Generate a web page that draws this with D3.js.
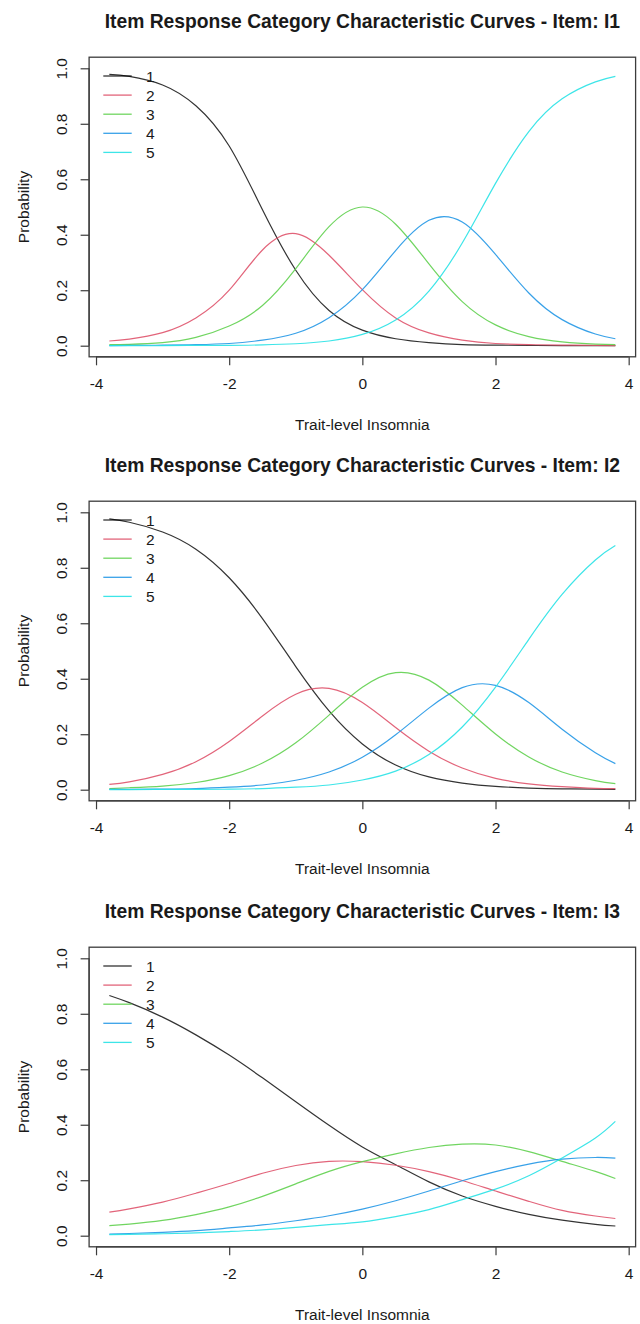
<!DOCTYPE html>
<html>
<head>
<meta charset="utf-8">
<script src="https://cdn.jsdelivr.net/npm/d3@7"></script>
<style>
  body { margin: 0; background: #fff; }
  svg { display: block; font-family: "Liberation Sans", Arial, sans-serif; }
</style>
</head>
<body>
<svg id="chart"></svg>
<script>
var width = 640, height = 1324;

// theta values the curves were read at
var theta = [-3.8, -3.5, -3, -2.5, -2, -1.5, -1, -0.5, 0, 0.5, 1, 1.5, 2, 2.5, 3, 3.5, 3.8];

var items = ["I1", "I2", "I3"];
var categories = ["1", "2", "3", "4", "5"];
var catColors = ["#000000", "#DF536B", "#61D04F", "#2297E6", "#28E2E5"];

var xTicks = [-4, -2, 0, 2, 4];
var yTicks = [0, 0.2, 0.4, 0.6, 0.8, 1.0];

// probabilities per category (rows = categories 1..5)
var probI1 = [
  [0.978, 0.971, 0.940, 0.865, 0.720, 0.490, 0.272, 0.127, 0.056, 0.025, 0.011, 0.004, 0.002, 0.001, 0.000, 0.000, 0.000],
  [0.017, 0.024, 0.047, 0.100, 0.200, 0.345, 0.404, 0.326, 0.202, 0.100, 0.046, 0.020, 0.008, 0.004, 0.002, 0.001, 0.000],
  [0.004, 0.005, 0.011, 0.030, 0.071, 0.145, 0.278, 0.429, 0.500, 0.438, 0.295, 0.159, 0.075, 0.033, 0.014, 0.006, 0.004],
  [0.000, 0.001, 0.002, 0.004, 0.008, 0.020, 0.045, 0.101, 0.202, 0.343, 0.452, 0.446, 0.329, 0.190, 0.094, 0.042, 0.025],
  [0.000, 0.000, 0.000, 0.001, 0.001, 0.003, 0.007, 0.017, 0.041, 0.093, 0.197, 0.370, 0.585, 0.772, 0.890, 0.951, 0.971]
];

var probI2 = [
  [0.976, 0.964, 0.929, 0.867, 0.764, 0.617, 0.444, 0.284, 0.165, 0.089, 0.046, 0.024, 0.012, 0.006, 0.003, 0.002, 0.001],
  [0.019, 0.028, 0.055, 0.101, 0.174, 0.266, 0.344, 0.365, 0.314, 0.224, 0.139, 0.078, 0.041, 0.021, 0.011, 0.005, 0.004],
  [0.004, 0.007, 0.013, 0.026, 0.051, 0.096, 0.169, 0.269, 0.369, 0.422, 0.395, 0.305, 0.201, 0.118, 0.064, 0.033, 0.022],
  [0.001, 0.001, 0.002, 0.004, 0.009, 0.017, 0.034, 0.064, 0.117, 0.198, 0.294, 0.368, 0.376, 0.314, 0.218, 0.133, 0.094],
  [0.000, 0.000, 0.001, 0.001, 0.002, 0.004, 0.009, 0.017, 0.035, 0.067, 0.127, 0.226, 0.370, 0.542, 0.704, 0.828, 0.880]
];

var probI3 = [
  [0.866, 0.840, 0.788, 0.724, 0.651, 0.569, 0.483, 0.398, 0.320, 0.256, 0.194, 0.143, 0.106, 0.077, 0.056, 0.041, 0.035],
  [0.085, 0.097, 0.121, 0.153, 0.188, 0.225, 0.253, 0.268, 0.267, 0.254, 0.231, 0.199, 0.161, 0.124, 0.091, 0.071, 0.062],
  [0.036, 0.042, 0.055, 0.076, 0.104, 0.142, 0.187, 0.232, 0.267, 0.295, 0.318, 0.330, 0.327, 0.303, 0.268, 0.232, 0.206],
  [0.006, 0.008, 0.012, 0.018, 0.028, 0.039, 0.054, 0.072, 0.096, 0.126, 0.161, 0.198, 0.231, 0.258, 0.276, 0.282, 0.280],
  [0.004, 0.005, 0.007, 0.010, 0.015, 0.021, 0.030, 0.040, 0.050, 0.069, 0.094, 0.130, 0.168, 0.216, 0.280, 0.352, 0.412]
];

var allProbs = [probI1, probI2, probI3];

// layout of one panel (R base plot look)
var panelTop = [0, 444, 890];
var boxL = 89.1, boxR = 635.6, boxT = 57.2, boxB = 356.8;
var baseFont = 15.5, titleFont = 19.3;

const svg = d3.select("svg#chart")
  .attr("width", width)
  .attr("height", height);

svg.append("rect").attr("width", width).attr("height", height).attr("fill", "#fff");

var x = d3.scaleLinear()
  .domain([-4.104, 4.104])
  .range([boxL, boxR]);

var y = d3.scaleLinear()
  .domain([-0.04, 1.04])
  .range([boxB, boxT]);

var line = d3.line()
  .x(d => x(d[0]))
  .y(d => y(d[1]))
  .curve(d3.curveNatural);

items.forEach((item, p) => drawPanel(item, allProbs[p], panelTop[p]));

function drawPanel(item, probs, top) {
  const g = svg.append("g")
    .attr("class", "panel")
    .attr("transform", "translate(0," + top + ")");

  // title
  g.append("text")
    .attr("x", (boxL + boxR) / 2)
    .attr("y", 28)
    .attr("text-anchor", "middle")
    .style("font-size", titleFont + "px")
    .style("font-weight", "bold")
    .style("fill", "#1a1a1a")
    .text("Item Response Category Characteristic Curves - Item: " + item);

  // curves
  const curves = g.append("g").attr("class", "curves");
  probs.forEach((row, k) => {
    curves.append("path")
      .datum(row.map((v, i) => [theta[i], v]))
      .attr("d", line)
      .attr("fill", "none")
      .attr("stroke", catColors[k])
      .attr("stroke-width", 1.2)
      .attr("stroke-opacity", k == 0 ? 0.8 : 0.9);
  });

  // x axis (plain hyphen minus, like R)
  const xa = g.append("g")
    .attr("transform", "translate(0," + boxB + ")")
    .call(d3.axisBottom(x).tickValues(xTicks).tickSize(8.5).tickSizeOuter(0).tickFormat(d => String(d)));
  xa.select(".domain").attr("d", "M" + x(-4) + ",0H" + x(4));

  // y axis, labels rotated like R (las = 0)
  const ya = g.append("g")
    .attr("transform", "translate(" + boxL + ",0)")
    .call(d3.axisLeft(y).tickValues(yTicks).tickSize(8.5).tickSizeOuter(0).tickFormat(d => d.toFixed(1)));
  ya.select(".domain").attr("d", "M0," + y(0) + "V" + y(1));
  ya.selectAll(".tick text")
    .attr("x", null).attr("dy", null)
    .attr("text-anchor", "middle")
    .attr("transform", "translate(-22.6,0) rotate(-90)");

  [xa, ya].forEach(a => {
    a.selectAll(".domain, .tick line").attr("stroke", "#3c3c3c").attr("stroke-width", 1.2);
    a.selectAll(".tick text")
      .style("font-size", baseFont + "px")
      .style("font-family", "'Liberation Sans', Arial, sans-serif")
      .attr("fill", "#1a1a1a");
  });
  xa.selectAll(".tick text").attr("dy", "0.32em").attr("y", 27.5);

  // box
  g.append("rect")
    .attr("x", boxL).attr("y", boxT)
    .attr("width", boxR - boxL).attr("height", boxB - boxT)
    .attr("fill", "none")
    .attr("stroke", "#3c3c3c")
    .attr("stroke-width", 1.3);

  // axis titles
  g.append("text")
    .attr("x", (boxL + boxR) / 2)
    .attr("y", 430)
    .attr("text-anchor", "middle")
    .style("font-size", baseFont + "px")
    .style("fill", "#1a1a1a")
    .text("Trait-level Insomnia");

  g.append("text")
    .attr("transform", "translate(29," + ((boxT + boxB) / 2) + ") rotate(-90)")
    .attr("text-anchor", "middle")
    .style("font-size", baseFont + "px")
    .style("fill", "#1a1a1a")
    .text("Probability");

  // legend, topleft, no box
  const leg = g.append("g").attr("class", "legend");
  categories.forEach((c, k) => {
    const ly = boxT + 18.8 + k * 19.1;
    leg.append("line")
      .attr("x1", 103.3).attr("x2", 131.7)
      .attr("y1", ly).attr("y2", ly)
      .attr("stroke", catColors[k])
      .attr("stroke-width", 1.3)
      .attr("stroke-opacity", k == 0 ? 0.8 : 0.9);
    leg.append("text")
      .attr("x", 146)
      .attr("y", ly)
      .attr("dy", "0.36em")
      .style("font-size", baseFont + "px")
      .style("fill", "#1a1a1a")
      .text(c);
  });
}
</script>
</body>
</html>
